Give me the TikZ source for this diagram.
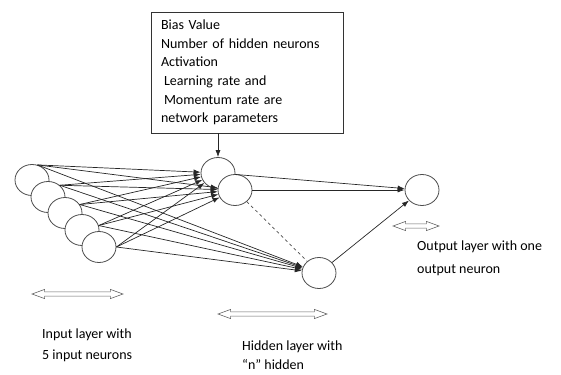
\documentclass[tikz,border=0pt]{standalone}
\usepackage{fontspec}
\setmainfont{Carlito}
\usetikzlibrary{arrows,arrows.meta}
\usetikzlibrary{shapes.arrows}
\usetikzlibrary{shapes.geometric}
\usetikzlibrary{positioning}

\tikzset{
  neuron/.style={ellipse, draw=black!70, fill=white, line width=0.8pt,
    minimum width=34pt, minimum height=31pt, inner sep=0pt},
  link/.style={-{Latex[length=7pt,width=5pt]}, line width=0.7pt, black!85},
  layerarrow/.style={double arrow, draw=black!60, fill=white, line width=0.6pt,
    inner xsep=0pt, inner ysep=1.8pt, minimum width=9pt,
    double arrow head extend=2.5pt, double arrow tip angle=40},
  lbl/.style={align=left, inner sep=0pt, anchor=north west,
    font=\fontsize{14}{21}\selectfont},
}

\begin{document}
\begin{tikzpicture}[x=1pt, y=-1pt]
  \useasboundingbox (0,0) rectangle (561,374);

  % parameter box
  \node[draw=black!80, line width=0.8pt, text width=172pt, inner xsep=10pt,
    minimum height=121pt, align=left, font=\fontsize{14}{18.7}\selectfont]
    (params) at (247,72.5)
    {Bias Value\\Number of hidden neurons\\Activation\\
     \hspace{3pt}Learning rate and\\\hspace{3pt}Momentum rate are\\network parameters};

  % input layer
  \node[neuron] (in1) at (32,180) {};
  \node[neuron] (in2) at (48,197) {};
  \node[neuron] (in3) at (65,213) {};
  \node[neuron] (in4) at (82,230) {};
  \node[neuron] (in5) at (99,247) {};

  % hidden layer
  \node[neuron] (h1) at (218,173) {};
  \node[neuron] (h2) at (235,190) {};
  \node[neuron] (h3) at (319,273) {};

  % output layer
  \node[neuron] (out) at (422,190) {};

  \foreach \i/\a in {1/70,2/45,3/30,4/15,5/0}
    \foreach \j in {1,2,3}
      \draw[link] (in\i.\a) -- (h\j);

  \draw[link] (params.south -| h1.north) -- (h1.north);
  \draw[link] (h1) -- (out);
  \draw[link] (h2) -- (out);
  \draw[link] (h3) -- (out);
  \draw[dashed, line width=0.7pt, black!70] (h2) -- (h3);

  % layer markers
  \node[layerarrow, minimum height=91pt] (inarrow) at (77.5,294) {};
  \node[layerarrow, minimum height=109pt] (hidarrow) at (272.5,314) {};
  \node[layerarrow, minimum height=46pt] (outarrow) at (416,226) {};

  \node[lbl] (inlabel) at (42,329) {Input layer with\\5 input neurons};
  \node[lbl, font=\fontsize{14}{19}\selectfont] (hidlabel) at (242,341)
    {Hidden layer with\\“n” hidden};
  \node[lbl, font=\fontsize{14}{23}\selectfont] (outlabel) at (417,241)
    {Output layer with one\\output neuron};
\end{tikzpicture}
\end{document}
